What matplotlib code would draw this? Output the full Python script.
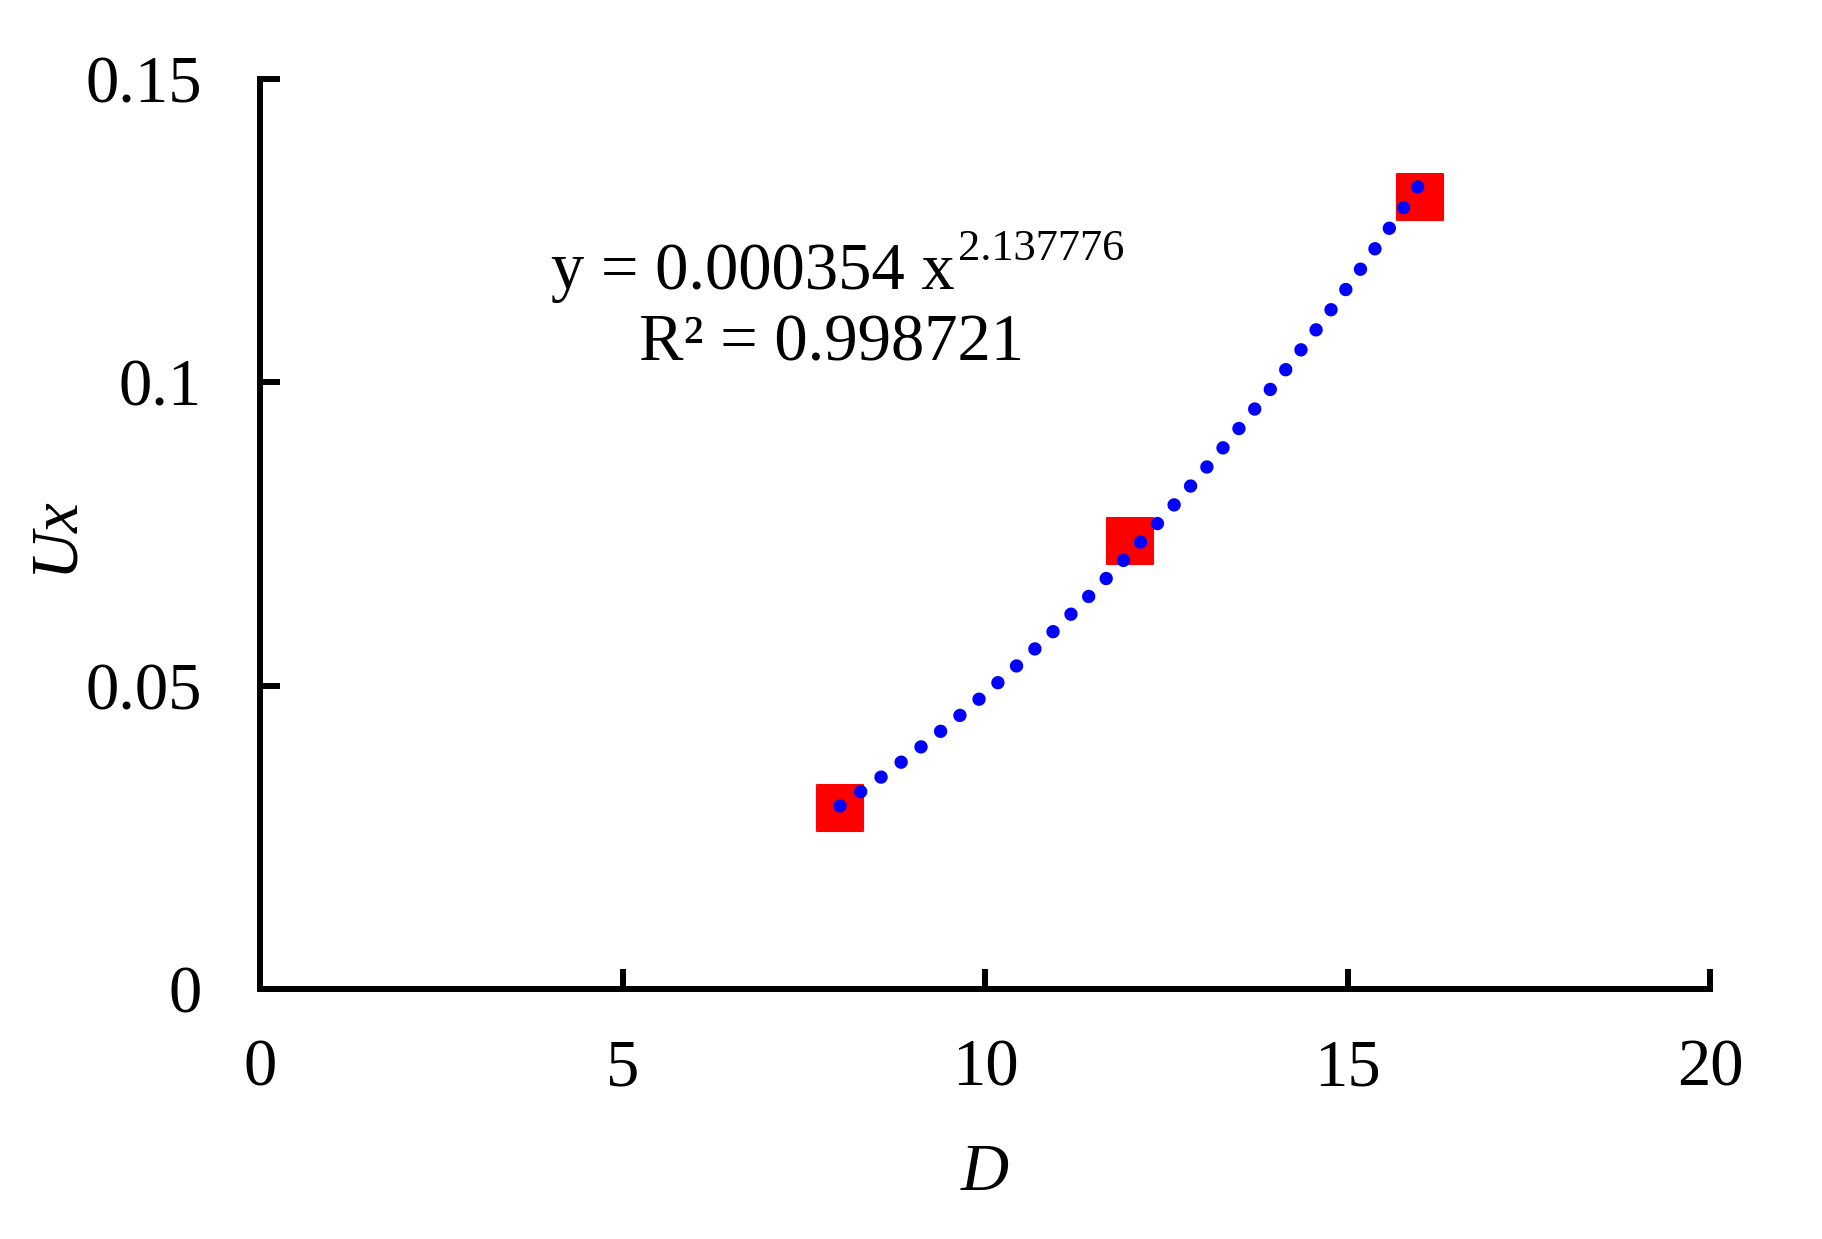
import numpy as np
import matplotlib
matplotlib.use('Agg')
from matplotlib import pyplot as plt
from matplotlib.markers import MarkerStyle

# measured points (D, Ux)
d_vals = [8, 12, 16]
ux_vals = [0.0298, 0.0738, 0.1305]

# power trendline as printed on the chart
fit_a = 0.000354
fit_b = 2.137776
r2 = 0.998721

x_ticks = [0, 5, 10, 15, 20]
y_ticks = [0, 0.05, 0.1, 0.15]
y_ticklabels = ['0', '0.05', '0.1', '0.15']

plt.rcParams['font.family'] = 'Liberation Serif'

fig = plt.figure(figsize=(18.22, 12.39), dpi=100)
ax = fig.add_axes([260 / 1822, 1 - 989 / 1239, 1450 / 1822, 910 / 1239])
ax.set_xlim(0, 20)
ax.set_ylim(0, 0.15)

# trendline, dotted with round dots; pick the gap so dots land on both ends
x_fit = np.linspace(d_vals[0], d_vals[-1], 400)
y_fit = fit_a * x_fit ** fit_b
lw = 9.6
pix = ax.transData.transform(np.column_stack([x_fit, y_fit]))
arc_pt = np.sum(np.hypot(*np.diff(pix, axis=0).T)) * 72 / fig.dpi
n_gaps = round(arc_pt / 18.1)
gap = 0.995 * arc_pt / n_gaps / lw - 0.01
ax.plot(x_fit, y_fit, color='#0000ff', lw=lw, linestyle=(0, (0.01, gap)),
        dash_capstyle='round', zorder=3, clip_on=False)

sq = MarkerStyle('s', joinstyle='round')
ax.plot(d_vals, ux_vals, linestyle='none', marker=sq, ms=33, color='#ff0000',
        mec='#ff0000', mew=1.5, zorder=2, clip_on=False)

# trendline equation
ax.text(0.4793, 0.769, 'y = %.6f x' % fit_a, transform=ax.transAxes,
        ha='right', va='baseline', fontsize=48)
ax.text(0.4815, 0.801, '%.6f' % fit_b, transform=ax.transAxes,
        ha='left', va='baseline', fontsize=32)
ax.text(0.394, 0.691, 'R² = %.6f' % r2, transform=ax.transAxes,
        ha='center', va='baseline', fontsize=48)

ax.set_xticks(x_ticks)
ax.set_yticks(y_ticks)
ax.set_yticklabels(y_ticklabels)

for side in ['top', 'right']:
    ax.spines[side].set_visible(False)
for side in ['left', 'bottom']:
    ax.spines[side].set_linewidth(4.3)
    ax.spines[side].set_capstyle('projecting')

ax.tick_params(axis='both', direction='in', length=14.5, width=4.3, labelsize=48)
ax.tick_params(axis='x', pad=36)
ax.tick_params(axis='y', pad=42)

ax.set_xlabel('D', fontsize=48, style='italic', labelpad=31)
ax.set_ylabel('Ux', fontsize=48, style='italic', va='center')
ax.yaxis.set_label_coords(-0.1414, 0.5)

fig.savefig('out.png', dpi=100)
